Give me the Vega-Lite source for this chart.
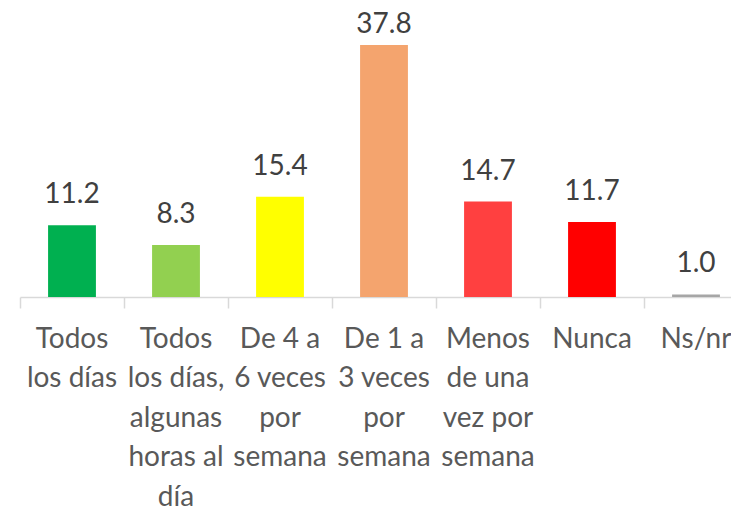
{
  "$schema": "https://vega.github.io/schema/vega-lite/v6.json",
  "autosize": {"type": "none"},
  "width": 711,
  "height": 287,
  "padding": {"left": 20, "top": 10, "right": 0, "bottom": 209},
  "background": "white",
  "config": {"view": {"stroke": null}},
  "data": {"values": [
    {"cat": "Todos|los días", "value": 11.2, "color": "#00B050", "order": 1},
    {"cat": "Todos|los días,|algunas|horas al|día", "value": 8.3, "color": "#92D050", "order": 2},
    {"cat": "De 4 a|6 veces|por|semana", "value": 15.4, "color": "#FFFF00", "order": 3},
    {"cat": "De 1 a|3 veces|por|semana", "value": 37.8, "color": "#F4A46E", "order": 4},
    {"cat": "Menos|de una|vez por|semana", "value": 14.7, "color": "#FF4040", "order": 5},
    {"cat": "Nunca", "value": 11.7, "color": "#FF0000", "order": 6},
    {"cat": "Ns/nr", "value": 1.0, "color": "#A6A6A6", "order": 7}
  ]},
  "layer": [
    {
      "mark": {"type": "bar", "width": {"band": 0.46}},
      "encoding": {
        "x": {
          "field": "cat", "type": "nominal", "sort": {"field": "order"},
          "scale": {"paddingInner": 0, "paddingOuter": 0, "range": [0, 728]},
          "axis": {
            "title": null, "labelAngle": 0, "bandPosition": 0,
            "labelExpr": "split(datum.label, '|')",
            "labelFont": "Lato", "labelFontSize": 28, "labelColor": "#595959",
            "labelLineHeight": 39.5, "labelPadding": 39, "labelBaseline": "alphabetic",
            "domainColor": "#D9D9D9", "domainWidth": 1.5,
            "tickColor": "#D9D9D9", "tickWidth": 1.5, "tickSize": 11,
            "labelOverlap": false, "labelLimit": 0, "labelBound": false
          }
        },
        "y": {
          "field": "value", "type": "quantitative",
          "scale": {"domain": [0.63, 42.96], "zero": false, "clamp": true, "nice": false},
          "axis": null
        },
        "color": {"field": "color", "type": "nominal", "scale": null, "legend": null}
      }
    },
    {
      "mark": {"type": "text", "font": "Lato", "fontSize": 28, "color": "#404040", "baseline": "alphabetic", "dy": -22},
      "encoding": {
        "x": {"field": "cat", "type": "nominal", "sort": {"field": "order"}},
        "y": {
          "field": "value", "type": "quantitative",
          "scale": {"domain": [0.63, 36.3], "range": [287, 45], "zero": false, "clamp": true, "nice": false},
          "axis": null
        },
        "text": {"field": "value", "type": "quantitative", "format": ".1f"}
      }
    }
  ],
  "resolve": {"scale": {"y": "independent"}}
}
